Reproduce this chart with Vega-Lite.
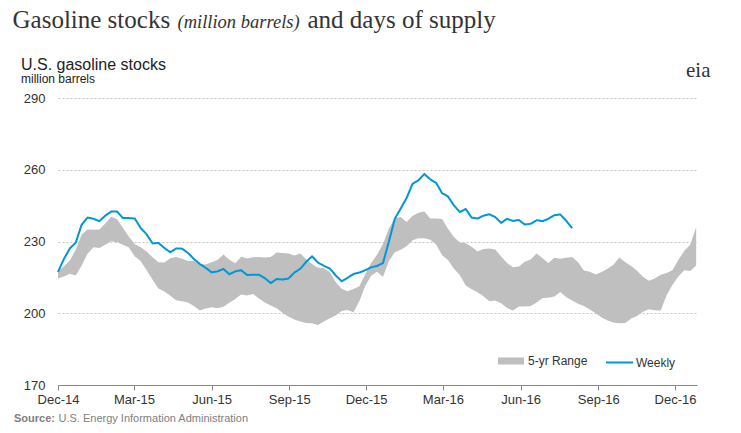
{
 "$schema": "https://vega.github.io/schema/vega-lite/v6.json",
 "width": 639, "height": 287,
 "autosize": "none",
 "padding": {"left": 58, "top": 98, "right": 44, "bottom": 48},
 "background": "white",
 "title": {"text": "U.S. gasoline stocks", "subtitle": "million barrels", "anchor": "start", "frame": "group", "dx": -37, "offset": -78,
   "font": "Liberation Sans", "fontSize": 16, "fontWeight": "normal", "color": "#222222",
   "subtitleFont": "Liberation Sans", "subtitleFontSize": 12, "subtitleColor": "#222222", "subtitlePadding": 1},
 "config": {"font": "Liberation Sans", "view": {"stroke": null}},
 "data": {"values": [
  {"date":"2014-12-01","hi":217.5,"lo":214.5,"weekly":217.3},
  {"date":"2014-12-08","hi":219.6,"lo":215.4,"weekly":222.7},
  {"date":"2014-12-15","hi":222.1,"lo":216.5,"weekly":227.1},
  {"date":"2014-12-22","hi":226.5,"lo":215.8,"weekly":229.5},
  {"date":"2014-12-29","hi":232.8,"lo":220.0,"weekly":237.0},
  {"date":"2015-01-05","hi":235.0,"lo":224.9,"weekly":240.0},
  {"date":"2015-01-12","hi":234.9,"lo":227.6,"weekly":239.5},
  {"date":"2015-01-19","hi":235.0,"lo":227.3,"weekly":238.5},
  {"date":"2015-01-26","hi":237.5,"lo":228.6,"weekly":240.8},
  {"date":"2015-02-02","hi":240.4,"lo":230.1,"weekly":242.5},
  {"date":"2015-02-09","hi":239.3,"lo":229.7,"weekly":242.5},
  {"date":"2015-02-16","hi":235.6,"lo":228.6,"weekly":239.8},
  {"date":"2015-02-23","hi":232.0,"lo":227.5,"weekly":239.8},
  {"date":"2015-03-02","hi":228.8,"lo":223.7,"weekly":239.6},
  {"date":"2015-03-09","hi":227.6,"lo":221.8,"weekly":235.6},
  {"date":"2015-03-16","hi":225.8,"lo":218.0,"weekly":233.0},
  {"date":"2015-03-23","hi":223.4,"lo":214.0,"weekly":229.2},
  {"date":"2015-03-30","hi":221.3,"lo":210.4,"weekly":229.4},
  {"date":"2015-04-06","hi":221.2,"lo":209.1,"weekly":227.3},
  {"date":"2015-04-13","hi":223.0,"lo":207.3,"weekly":225.5},
  {"date":"2015-04-20","hi":223.5,"lo":205.4,"weekly":227.1},
  {"date":"2015-04-27","hi":222.8,"lo":205.0,"weekly":227.0},
  {"date":"2015-05-04","hi":221.8,"lo":204.5,"weekly":225.2},
  {"date":"2015-05-11","hi":221.8,"lo":203.0,"weekly":222.7},
  {"date":"2015-05-18","hi":220.6,"lo":201.2,"weekly":220.6},
  {"date":"2015-05-25","hi":220.4,"lo":202.0,"weekly":219.0},
  {"date":"2015-06-01","hi":221.3,"lo":202.5,"weekly":217.1},
  {"date":"2015-06-08","hi":222.3,"lo":202.1,"weekly":217.5},
  {"date":"2015-06-15","hi":224.6,"lo":202.7,"weekly":218.5},
  {"date":"2015-06-22","hi":222.4,"lo":204.4,"weekly":216.3},
  {"date":"2015-06-29","hi":220.9,"lo":206.0,"weekly":217.5},
  {"date":"2015-07-06","hi":223.6,"lo":207.8,"weekly":218.0},
  {"date":"2015-07-13","hi":222.9,"lo":207.4,"weekly":216.0},
  {"date":"2015-07-20","hi":223.4,"lo":208.1,"weekly":216.1},
  {"date":"2015-07-27","hi":223.5,"lo":206.2,"weekly":216.1},
  {"date":"2015-08-03","hi":223.3,"lo":204.5,"weekly":214.7},
  {"date":"2015-08-10","hi":223.5,"lo":203.2,"weekly":212.6},
  {"date":"2015-08-17","hi":225.4,"lo":202.1,"weekly":214.3},
  {"date":"2015-08-24","hi":225.2,"lo":200.2,"weekly":214.1},
  {"date":"2015-08-31","hi":225.0,"lo":198.6,"weekly":214.5},
  {"date":"2015-09-07","hi":224.1,"lo":197.4,"weekly":217.0},
  {"date":"2015-09-14","hi":225.0,"lo":196.6,"weekly":218.6},
  {"date":"2015-09-21","hi":222.6,"lo":195.9,"weekly":221.5},
  {"date":"2015-09-28","hi":220.6,"lo":195.8,"weekly":223.8},
  {"date":"2015-10-05","hi":219.0,"lo":195.1,"weekly":221.2},
  {"date":"2015-10-12","hi":218.8,"lo":196.6,"weekly":219.8},
  {"date":"2015-10-19","hi":217.1,"lo":197.9,"weekly":218.7},
  {"date":"2015-10-26","hi":213.1,"lo":199.1,"weekly":215.8},
  {"date":"2015-11-02","hi":210.2,"lo":200.9,"weekly":213.4},
  {"date":"2015-11-09","hi":209.2,"lo":201.4,"weekly":214.8},
  {"date":"2015-11-16","hi":210.1,"lo":200.4,"weekly":216.4},
  {"date":"2015-11-23","hi":211.3,"lo":205.0,"weekly":217.0},
  {"date":"2015-11-30","hi":216.3,"lo":211.5,"weekly":218.0},
  {"date":"2015-12-07","hi":221.0,"lo":215.7,"weekly":219.2},
  {"date":"2015-12-14","hi":224.5,"lo":217.3,"weekly":219.8},
  {"date":"2015-12-21","hi":229.0,"lo":215.2,"weekly":221.0},
  {"date":"2015-12-28","hi":235.4,"lo":221.8,"weekly":230.0},
  {"date":"2016-01-04","hi":239.7,"lo":225.5,"weekly":239.5},
  {"date":"2016-01-11","hi":240.2,"lo":226.6,"weekly":243.8},
  {"date":"2016-01-18","hi":238.2,"lo":228.0,"weekly":248.2},
  {"date":"2016-01-25","hi":240.7,"lo":230.5,"weekly":254.1},
  {"date":"2016-02-01","hi":242.0,"lo":231.4,"weekly":255.6},
  {"date":"2016-02-08","hi":242.5,"lo":231.4,"weekly":258.2},
  {"date":"2016-02-15","hi":239.6,"lo":230.7,"weekly":256.0},
  {"date":"2016-02-22","hi":239.6,"lo":228.7,"weekly":254.5},
  {"date":"2016-02-29","hi":239.4,"lo":224.2,"weekly":250.2},
  {"date":"2016-03-07","hi":235.3,"lo":222.3,"weekly":248.8},
  {"date":"2016-03-14","hi":231.9,"lo":218.6,"weekly":245.1},
  {"date":"2016-03-21","hi":229.6,"lo":216.0,"weekly":242.3},
  {"date":"2016-03-28","hi":229.3,"lo":211.6,"weekly":243.6},
  {"date":"2016-04-04","hi":227.8,"lo":210.0,"weekly":240.0},
  {"date":"2016-04-11","hi":225.8,"lo":208.8,"weekly":239.6},
  {"date":"2016-04-18","hi":226.9,"lo":207.1,"weekly":240.8},
  {"date":"2016-04-25","hi":227.1,"lo":205.0,"weekly":241.4},
  {"date":"2016-05-02","hi":226.7,"lo":205.3,"weekly":240.2},
  {"date":"2016-05-09","hi":223.7,"lo":204.2,"weekly":237.8},
  {"date":"2016-05-16","hi":221.0,"lo":202.2,"weekly":239.5},
  {"date":"2016-05-23","hi":219.2,"lo":201.1,"weekly":238.6},
  {"date":"2016-05-30","hi":219.5,"lo":202.8,"weekly":239.0},
  {"date":"2016-06-06","hi":221.5,"lo":202.8,"weekly":237.1},
  {"date":"2016-06-13","hi":222.5,"lo":203.0,"weekly":237.4},
  {"date":"2016-06-20","hi":225.0,"lo":204.5,"weekly":238.9},
  {"date":"2016-06-27","hi":223.0,"lo":206.4,"weekly":238.5},
  {"date":"2016-07-04","hi":221.0,"lo":206.5,"weekly":239.5},
  {"date":"2016-07-11","hi":223.2,"lo":207.0,"weekly":241.0},
  {"date":"2016-07-18","hi":222.8,"lo":208.9,"weekly":241.3},
  {"date":"2016-07-25","hi":223.2,"lo":206.8,"weekly":238.7},
  {"date":"2016-08-01","hi":223.5,"lo":205.3,"weekly":235.6},
  {"date":"2016-08-08","hi":221.3,"lo":204.0},
  {"date":"2016-08-15","hi":217.9,"lo":203.0},
  {"date":"2016-08-22","hi":217.3,"lo":201.6},
  {"date":"2016-08-29","hi":216.2,"lo":200.0},
  {"date":"2016-09-05","hi":217.2,"lo":198.2},
  {"date":"2016-09-12","hi":218.6,"lo":197.0},
  {"date":"2016-09-19","hi":220.3,"lo":196.1},
  {"date":"2016-09-26","hi":223.3,"lo":195.8},
  {"date":"2016-10-03","hi":221.3,"lo":195.9},
  {"date":"2016-10-10","hi":219.8,"lo":197.8},
  {"date":"2016-10-17","hi":217.8,"lo":198.8},
  {"date":"2016-10-24","hi":215.3,"lo":200.6},
  {"date":"2016-10-31","hi":213.6,"lo":201.7},
  {"date":"2016-11-07","hi":214.5,"lo":201.3},
  {"date":"2016-11-14","hi":216.1,"lo":201.2},
  {"date":"2016-11-21","hi":216.8,"lo":207.5},
  {"date":"2016-11-28","hi":218.0,"lo":211.9},
  {"date":"2016-12-05","hi":222.4,"lo":215.5},
  {"date":"2016-12-12","hi":226.1,"lo":218.0},
  {"date":"2016-12-19","hi":228.6,"lo":217.7},
  {"date":"2016-12-26","hi":236.0,"lo":220.0}
 ]},
 "layer": [
  {
   "mark": {"type": "area", "opacity": 1, "strokeWidth": 0},
   "encoding": {
    "x": {"field": "date", "type": "temporal",
      "scale": {"type": "utc", "domain": [{"year": 2014, "month": 12, "date": 1, "utc": true}, {"year": 2016, "month": 12, "date": 27, "utc": true}]},
      "axis": {"orient": "bottom",
        "values": [{"year": 2014, "month": 12, "date": 1, "utc": true}, {"year": 2015, "month": 3, "date": 1, "utc": true}, {"year": 2015, "month": 6, "date": 1, "utc": true}, {"year": 2015, "month": 9, "date": 1, "utc": true}, {"year": 2015, "month": 12, "date": 1, "utc": true}, {"year": 2016, "month": 3, "date": 1, "utc": true}, {"year": 2016, "month": 6, "date": 1, "utc": true}, {"year": 2016, "month": 9, "date": 1, "utc": true}, {"year": 2016, "month": 12, "date": 1, "utc": true}],
        "format": "%b-%y", "labelFontSize": 13, "labelColor": "#333333", "labelPadding": 3, "labelFlush": false, "labelOverlap": false,
        "tickSize": 5, "tickColor": "#888888", "domainColor": "#888888", "grid": false,
        "title": "U.S. Energy Information Administration", "titleFontSize": 11, "titleFontWeight": "normal", "titleColor": "#808080",
        "titleAlign": "left", "titleBaseline": "alphabetic", "titleX": 0, "titleY": 36}},
    "y": {"field": "hi", "type": "quantitative",
      "scale": {"domain": [170, 290], "nice": false, "zero": false},
      "axis": {"orient": "left", "values": [170, 200, 230, 260, 290], "grid": true, "gridColor": "#c4c4c4", "gridDash": [2, 2],
        "domain": false, "ticks": false, "labelFontSize": 13, "labelColor": "#333333", "labelPadding": 13,
        "title": "Gasoline stocks", "titleFont": "Liberation Serif", "titleAngle": 0, "titleAlign": "left", "titleBaseline": "alphabetic", "titleX": -46, "titleY": -71,
        "titleFontSize": 25, "titleFontWeight": "normal", "titleColor": "#333333"}},
    "y2": {"field": "lo"},
    "fill": {"datum": "5-yr Range", "scale": {"range": ["#bfbfbf"]},
      "legend": {"orient": "none", "legendX": 440, "legendY": 250, "title": null, "padding": 0,
        "symbolType": "M-1,-0.27H1V0.27H-1Z", "symbolSize": 676, "symbolStrokeWidth": 0,
        "labelFontSize": 12, "labelColor": "#333333", "labelOffset": 4}}
   }
  },
  {
   "mark": {"type": "line", "strokeWidth": 2},
   "encoding": {
    "x": {"field": "date", "type": "temporal",
      "axis": {"orient": "top", "labels": false, "ticks": false, "domain": false, "grid": false,
        "title": "(million barrels)", "titleFont": "Liberation Serif", "titleFontStyle": "italic", "titleFontSize": 18.5, "titleFontWeight": "normal",
        "titleColor": "#333333", "titleAlign": "left", "titleBaseline": "alphabetic", "titleX": 119, "titleY": -71}},
    "y": {"field": "weekly", "type": "quantitative",
      "axis": {"orient": "right", "labels": false, "ticks": false, "domain": false, "grid": false,
        "title": "and days of supply", "titleFont": "Liberation Serif", "titleFontSize": 25, "titleFontWeight": "normal",
        "titleColor": "#333333", "titleAngle": 0, "titleAlign": "left", "titleBaseline": "alphabetic", "titleX": -390, "titleY": -71}},
    "stroke": {"datum": "Weekly", "scale": {"range": ["#0096d7"]},
      "legend": {"orient": "none", "legendX": 547, "legendY": 250, "title": null, "padding": 0,
        "symbolType": "stroke", "symbolSize": 729, "symbolStrokeWidth": 2,
        "labelFontSize": 12, "labelColor": "#333333", "labelOffset": 2}},
    "opacity": {"datum": "eia", "type": "nominal", "scale": {"range": [1]},
      "legend": {"orient": "none", "legendX": 607, "legendY": -38, "title": null, "padding": 0,
        "symbolSize": 0, "symbolStrokeWidth": 0, "symbolFillColor": "transparent", "symbolStrokeColor": "transparent",
        "labelFont": "Liberation Serif", "labelFontSize": 21, "labelColor": "#333333", "labelOffset": 0}},
    "strokeDash": {"datum": "Source:", "type": "nominal", "scale": {"range": [[1, 0]]},
      "legend": {"orient": "none", "legendX": -55, "legendY": 315, "title": null, "padding": 0,
        "symbolSize": 0, "symbolStrokeWidth": 0, "symbolFillColor": "transparent", "symbolStrokeColor": "transparent",
        "labelFontSize": 11, "labelFontWeight": "bold", "labelColor": "#808080", "labelOffset": 0}}
   }
  }
 ],
 "resolve": {"axis": {"x": "independent", "y": "independent"}}
}
